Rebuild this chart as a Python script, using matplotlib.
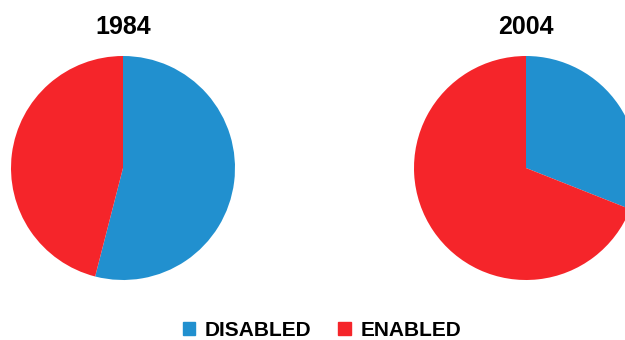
import matplotlib.pyplot as plt
from matplotlib.patches import Patch

plt.rcParams['font.family'] = ['Liberation Sans', 'DejaVu Sans']

# share of disabled vs enabled
labels = ['DISABLED', 'ENABLED']
years = ['1984', '2004']
disabled = [54, 31]
enabled = [46, 69]
colors = ['#2190CF', '#F5252A']

W, H = 625, 340
fig = plt.figure(figsize=(W / 100, H / 100), dpi=100)

centers = [(123, 168), (526, 168)]
r = 112
for i, yr in enumerate(years):
    cx, cy = centers[i]
    ax = fig.add_axes([(cx - r) / W, (H - cy - r) / H, 2 * r / W, 2 * r / H])
    ax.pie([disabled[i], enabled[i]], colors=colors, startangle=90,
           counterclock=False, radius=1,
           wedgeprops=dict(linewidth=0))
    ax.set_xlim(-1, 1)
    ax.set_ylim(-1, 1)
    ax.set_aspect('equal')
    ax.axis('off')
    fig.text(cx / W, 1 - 27 / H, yr, ha='center', va='center',
             fontsize=18, fontweight='bold')

handles = [Patch(color=c, label=l) for c, l in zip(colors, labels)]
fig.legend(handles=handles, loc='center', bbox_to_anchor=(322 / W, 1 - 330 / H),
           ncol=2, frameon=False, handlelength=0.6, handleheight=0.6,
           handletextpad=0.45, columnspacing=1.3,
           borderpad=0.2, prop=dict(size=15, weight='bold'))

fig.savefig('out.png', dpi=100)
